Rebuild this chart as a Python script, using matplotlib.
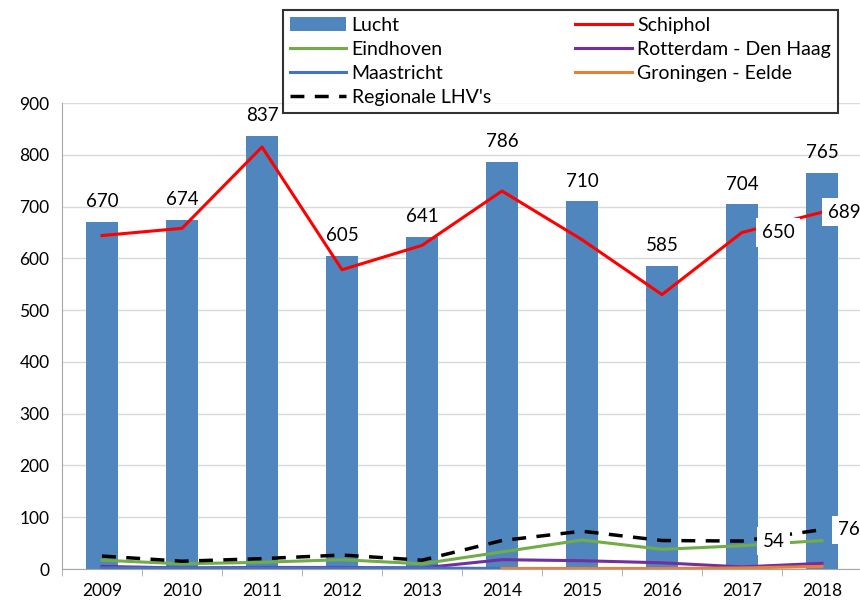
import matplotlib
matplotlib.use("Agg")
import matplotlib.pyplot as plt
import numpy as np

years = ["2009", "2010", "2011", "2012", "2013", "2014", "2015", "2016", "2017", "2018"]
lucht = [670, 674, 837, 605, 641, 786, 710, 585, 704, 765]
schiphol = [644, 658, 815, 578, 625, 730, 636, 530, 650, 689]
eindhoven = [17, 10, 13, 18, 10, 33, 56, 38, 45, 55]
rotterdam = [5, 2, 3, 3, 2, 18, 16, 12, 4, 11]
maastricht = [2, 2, 2, 2, 2, 1, np.nan, np.nan, np.nan, np.nan]
groningen = [np.nan, np.nan, np.nan, np.nan, np.nan, 1, 1, 1, 2, 5]
regionale = [25, 15, 20, 27, 17, 55, 73, 55, 54, 76]

plt.rcParams['font.family'] = ['Lato', 'DejaVu Sans']
FS = 13

fig = plt.figure(figsize=(8.6, 6.08), dpi=100)
ax = fig.add_axes([62/860, 1-569/608, 800/860, (569-103)/608])
x = np.arange(len(years))

bars = ax.bar(x, lucht, width=0.4, color='#4f86bd', label='Lucht', zorder=2)
l_s, = ax.plot(x, schiphol, color='#ff0000', lw=2.2, label='Schiphol', zorder=3)
l_e, = ax.plot(x, eindhoven, color='#70ad47', lw=2.2, label='Eindhoven', zorder=3)
l_r, = ax.plot(x, rotterdam, color='#7030a0', lw=2.2, label='Rotterdam - Den Haag', zorder=3)
l_m, = ax.plot(x, maastricht, color='#4472c4', lw=2.2, label='Maastricht', zorder=3)
l_g, = ax.plot(x, groningen, color='#ed7d31', lw=2.2, label='Groningen - Eelde', zorder=3)
l_reg, = ax.plot(x, regionale, color='black', lw=2.5, ls=(0, (4, 3)), label="Regionale LHV's", zorder=4)

for xi, v in zip(x, lucht):
    ax.annotate(str(v), (xi, v), xytext=(0, 14.5), textcoords='offset points',
                ha='center', va='center', fontsize=FS + 0.5, zorder=5)

box = dict(facecolor='white', edgecolor='none', pad=4)
# (index, series, x-offset in category units)
label_specs = [(8, schiphol, 0.25), (9, schiphol, 0.075), (8, regionale, 0.26), (9, regionale, 0.2)]
for i, series, off in label_specs:
    ax.text(x[i] + off, series[i], str(series[i]), ha='left', va='center', fontsize=FS + 0.5,
            bbox=box, zorder=6, clip_on=False)

ax.set_xlim(-0.5, 9.5)
ax.set_ylim(0, 900)
ax.set_yticks(range(0, 901, 100))
ax.set_xticks(x)
ax.set_xticklabels(years)
ax.set_xticks(np.arange(-0.5, 10, 1), minor=True)
ax.tick_params(axis='x', which='major', length=0, labelsize=FS - 0.5, pad=10)
ax.tick_params(axis='x', which='minor', length=5, color='#a6a6a6')
ax.tick_params(axis='y', length=0, labelsize=FS - 0.5, pad=9)
ax.yaxis.grid(True, color='#d9d9d9', lw=1, zorder=0)
ax.set_axisbelow(True)
for s in ['top', 'right']:
    ax.spines[s].set_visible(False)
ax.spines['left'].set_color('#a6a6a6')
ax.spines['bottom'].set_color('#a6a6a6')

handles = [bars, l_e, l_m, l_reg, l_s, l_r, l_g]
leg = fig.legend(handles=handles, labels=[h.get_label() for h in handles], ncol=2,
                 loc='upper left', bbox_to_anchor=(283/860, 1-10/608),
                 fontsize=14, frameon=True, fancybox=False,
                 edgecolor='black', handlelength=2.9, handletextpad=0.28,
                 labelspacing=0.36, borderpad=0.35, borderaxespad=0, columnspacing=4.35)
leg.get_frame().set_linewidth(1.5)
leg.set_zorder(10)

fig.savefig('out.png', dpi=100)
